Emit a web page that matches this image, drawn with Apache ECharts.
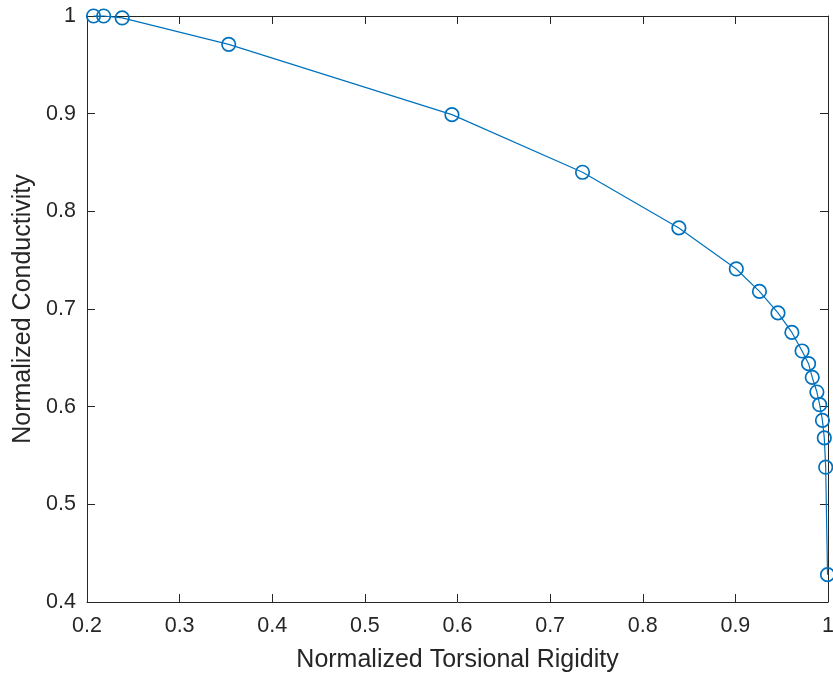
<!DOCTYPE html>
<html>
<head>
<meta charset="utf-8">
<script src="https://cdn.jsdelivr.net/npm/echarts@6/dist/echarts.min.js"></script>
<style>
  html, body { margin: 0; padding: 0; background: #fff; }
  #main { width: 833px; height: 675px; }
</style>
</head>
<body>
<div id="main"></div>
<script>
// values
var rigidity = [0.207, 0.218, 0.238, 0.353, 0.594, 0.735, 0.839, 0.901, 0.926, 0.946,
                0.961, 0.972, 0.979, 0.983, 0.988, 0.991, 0.994, 0.996, 0.9975, 0.9995];
var conductivity = [1.0, 1.0, 0.998, 0.971, 0.899, 0.840, 0.783, 0.741, 0.718, 0.696,
                    0.676, 0.657, 0.644, 0.630, 0.615, 0.602, 0.586, 0.568, 0.538, 0.428];
var xTitle = 'Normalized Torsional Rigidity';
var yTitle = 'Normalized Conductivity';

var ink = '#262626';
var blue = '#0072BD';
var font = 'Liberation Sans';

var points = rigidity.map(function (x, i) { return [x, conductivity[i]]; });

var chart = echarts.init(document.getElementById('main'));

function frameAxis(extra) {
  var ax = {
    type: 'value',
    axisLine: { show: true, lineStyle: { color: ink, width: 1 } },
    axisTick: { show: true, inside: true, length: 8, lineStyle: { color: ink } },
    splitLine: { show: false },
    axisLabel: { show: false }
  };
  for (var k in extra) ax[k] = extra[k];
  return ax;
}

chart.setOption({
  animation: false,
  backgroundColor: '#fff',
  grid: { left: 87, right: 5, top: 16, bottom: 73, containLabel: false, outerBoundsMode: 'none' },
  xAxis: [
    frameAxis({
      position: 'bottom', min: 0.2, max: 1, interval: 0.1,
      name: xTitle, nameLocation: 'middle', nameGap: 46,
      nameTextStyle: { color: ink, fontFamily: font, fontSize: 25 },
      axisLabel: { show: true, color: ink, fontFamily: font, fontSize: 21.5, margin: 13 }
    }),
    frameAxis({ position: 'top', min: 0.2, max: 1, interval: 0.1 })
  ],
  yAxis: [
    frameAxis({
      position: 'left', min: 0.4, max: 1, interval: 0.1,
      name: yTitle, nameLocation: 'middle', nameGap: 51,
      nameTextStyle: { color: ink, fontFamily: font, fontSize: 25 },
      axisLabel: { show: true, color: ink, fontFamily: font, fontSize: 21.5, margin: 11 }
    }),
    frameAxis({ position: 'right', min: 0.4, max: 1, interval: 0.1 })
  ],
  series: [{
    type: 'line',
    data: points,
    xAxisIndex: 0,
    yAxisIndex: 0,
    clip: false,
    symbol: 'circle',
    symbolSize: 13.5,
    lineStyle: { color: blue, width: 1.2 },
    itemStyle: { color: 'rgba(0,0,0,0)', borderColor: blue, borderWidth: 1.7 },
    emphasis: { disabled: true }
  }]
});
</script>
</body>
</html>
